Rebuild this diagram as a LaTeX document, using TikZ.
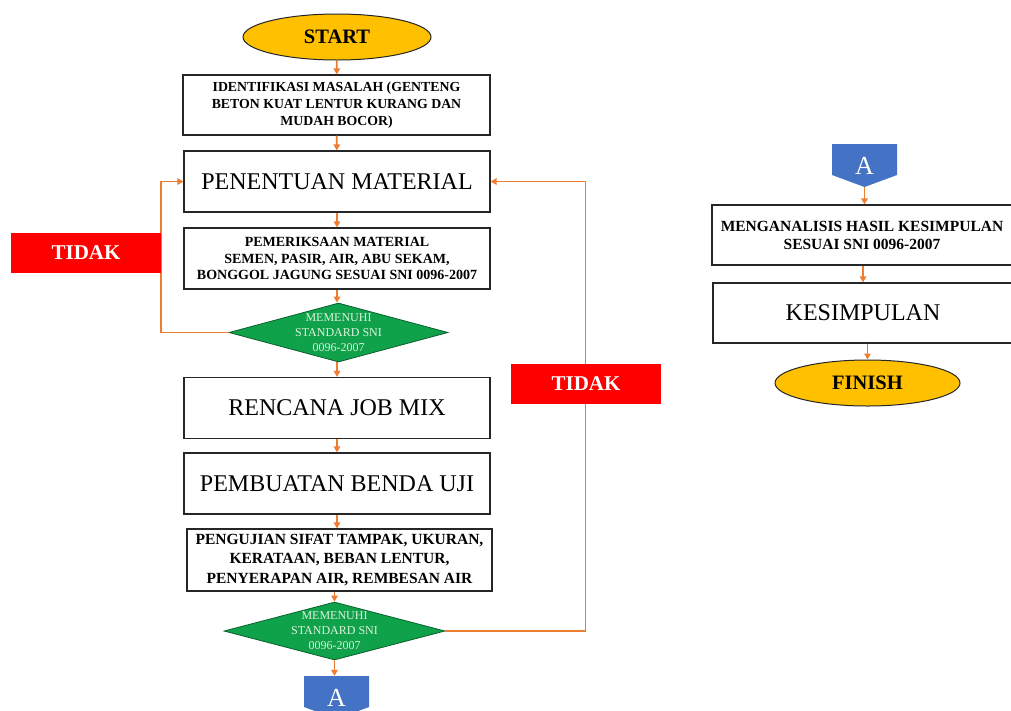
\documentclass[tikz,border=0pt]{standalone}
\usepackage{fontspec}
\setmainfont{Liberation Serif}
\usetikzlibrary{shapes.geometric, arrows.meta}
\definecolor{gold}{HTML}{FFC000}
\definecolor{flow}{HTML}{ED7D31}
\definecolor{okgreen}{HTML}{10A24A}
\definecolor{paletext}{HTML}{DDF3DD}
\definecolor{conblue}{HTML}{4472C4}

\begin{document}
\begin{tikzpicture}[x=1pt, y=-1pt,
  term/.style={ellipse, draw=black!85, line width=1pt, fill=gold, minimum width=188, minimum height=46, inner sep=0pt, font=\bfseries\fontsize{20.5}{22}\selectfont},
  block/.style={draw=black!85, line width=1.2pt, minimum width=306, minimum height=61, inner sep=2pt, align=center},
  smalltxt/.style={font=\bfseries\fontsize{14}{16.5}\selectfont},
  bigtxt/.style={font=\fontsize{24}{26}\selectfont},
  ask/.style={diamond, draw=okgreen!60!black, line width=0.8pt, fill=okgreen, aspect=3.7, minimum width=219, minimum height=59, inner xsep=0pt, inner ysep=-8pt, text=paletext, align=center, font=\fontsize{12}{15}\selectfont},
  nolabel/.style={fill=red, text=white, minimum width=150, minimum height=40, font=\bfseries\fontsize{21}{22}\selectfont},
  conn/.style={text=white, minimum width=65, minimum height=43, inner sep=0pt, font=\fontsize{26}{28}\selectfont,
    path picture={\fill[conblue] (path picture bounding box.north west) -- (path picture bounding box.north east)
      -- ([yshift=12pt]path picture bounding box.south east) -- (path picture bounding box.south)
      -- ([yshift=12pt]path picture bounding box.south west) -- cycle;}},
  link/.style={draw=flow, line width=1.8pt},
  go/.style={link, -{Triangle[length=6pt,width=6.5pt]}}
]
\clip (0,0) rectangle (1011,710);
\fill[white] (0,0) rectangle (1011,710);

\node[term] (st) at (337,37) {START};
\node[block, minimum width=307, minimum height=60, font=\bfseries\fontsize{13.8}{17}\selectfont] (id) at (336.5,105) {IDENTIFIKASI MASALAH (GENTENG\\BETON KUAT LENTUR KURANG DAN\\MUDAH BOCOR)};
\node[block, bigtxt] (pm) at (337,181.5) {PENENTUAN MATERIAL};
\node[block, smalltxt] (pe) at (337,258.5) {PEMERIKSAAN MATERIAL\\SEMEN, PASIR, AIR, ABU SEKAM,\\BONGGOL JAGUNG SESUAI SNI 0096-2007};
\node[ask] (d1) at (338.5,332.5) {MEMENUHI\\STANDARD SNI\\0096-2007};
\node[block, bigtxt] (rj) at (337,408) {RENCANA JOB MIX};
\node[block, bigtxt] (pb) at (337,483.5) {PEMBUATAN BENDA UJI};
\node[block, minimum width=305, minimum height=62, font=\bfseries\fontsize{15.5}{19.5}\selectfont] (pg) at (339.5,560) {PENGUJIAN SIFAT TAMPAK, UKURAN,\\KERATAAN, BEBAN LENTUR,\\PENYERAPAN AIR, REMBESAN AIR};
\node[ask, minimum width=221, minimum height=58] (d2) at (334.5,631) {MEMENUHI\\STANDARD SNI\\0096-2007};
\node[conn] (a1) at (336.5,697.5) {A};

\node[conn] (a2) at (864.5,165.5) {A};
\node[block, minimum width=300, minimum height=60, font=\bfseries\fontsize{15.5}{18}\selectfont] (mh) at (862,235) {MENGANALISIS HASIL KESIMPULAN\\SESUAI SNI 0096-2007};
\node[block, bigtxt, minimum width=300, minimum height=60] (kp) at (863,313) {KESIMPULAN};
\node[term, minimum width=185] (fn) at (867.5,383) {FINISH};

\draw[go] (st) -- (id);
\draw[go] (id) -- (pm);
\draw[go] (pm) -- (pe);
\draw[go] (pe.south) -- (pe.south |- d1.north);
\draw[go] (d1.south -| rj.north) -- (rj.north);
\draw[go] (rj) -- (pb);
\draw[go] (pb.south) -- (pg.north -| pb.south);
\draw[go] (pg.south -| d2.north) -- (d2.north);
\draw[go] (d2.south) -- (d2.south |- a1.north);
\draw[go] (d1.west) -- ++(-68,0) |- (pm.west);
\draw[go] (d2.east) -- ++(140,0) |- (pm.east);

\draw[go] (a2.south) -- (mh.north -| a2.south);
\draw[go] (mh.south -| kp.north) -- (kp.north);
\draw[go] (kp.south -| fn.north) -- (fn.north);

\node[nolabel] (t1) at (86,253) {TIDAK};
\node[nolabel] (t2) at (586,384) {TIDAK};
\end{tikzpicture}
\end{document}
